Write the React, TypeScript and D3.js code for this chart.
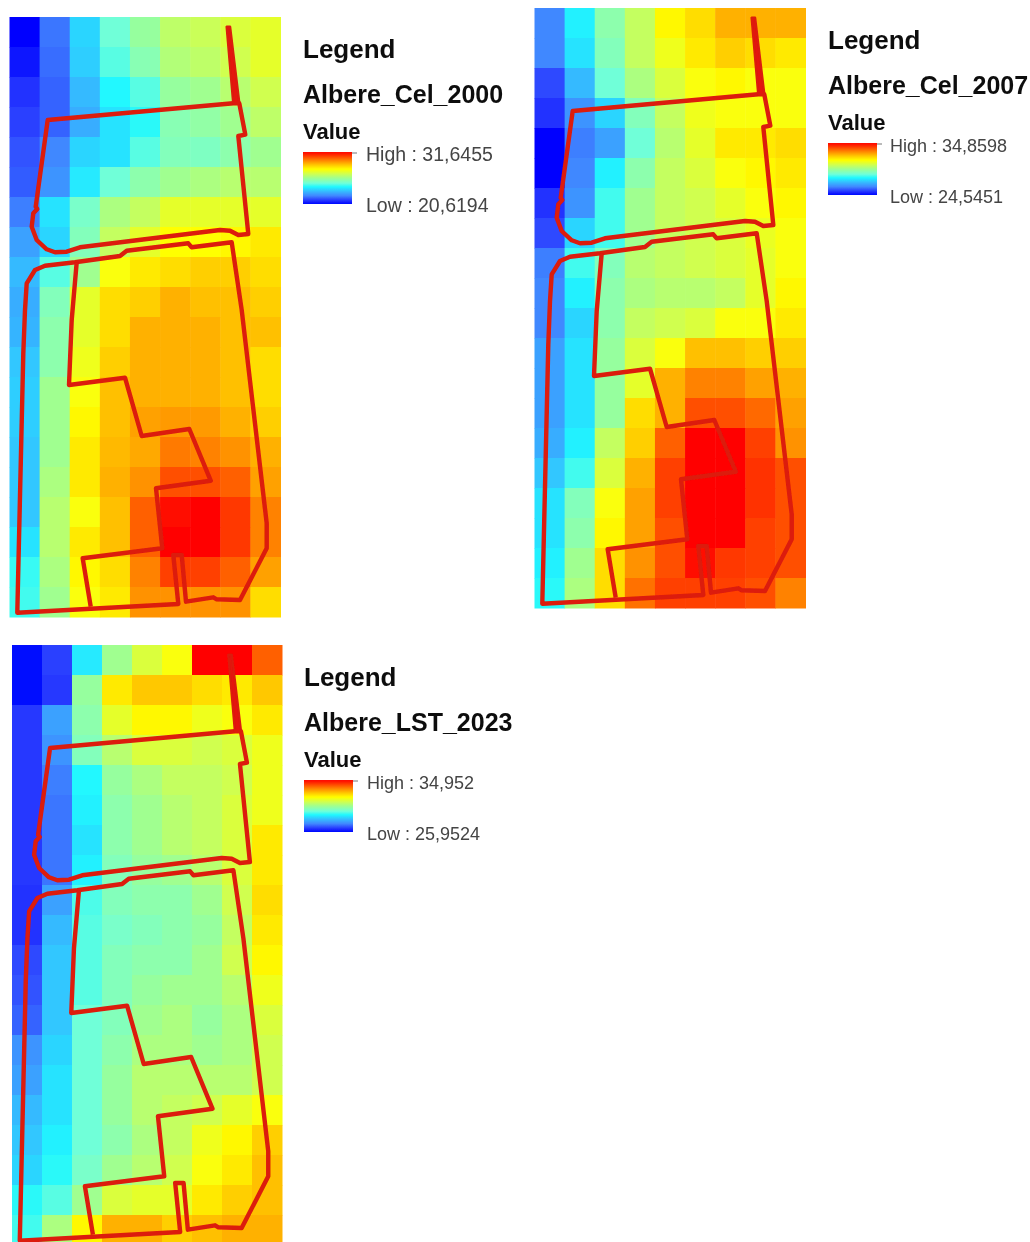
import React from "react";
import { scaleBand, scaleLinear, line, range, interpolateRgb, curveLinear } from "d3";

// cell values are positions on the legend stretch, 0 = Low, 100 = High
const cel2000 = [
  [0, 14, 28, 40, 48, 55, 57, 60, 62],
  [3, 13, 27, 38, 45, 53, 55, 58, 62],
  [6, 12, 24, 33, 38, 48, 50, 54, 58],
  [8, 12, 22, 30, 34, 45, 47, 50, 55],
  [10, 16, 28, 30, 38, 44, 43, 46, 50],
  [11, 18, 31, 40, 46, 50, 52, 54, 54],
  [15, 30, 42, 52, 56, 62, 62, 62, 62],
  [20, 28, 44, 56, 62, 67, 67, 68, 70],
  [24, 38, 50, 66, 70, 72, 74, 74, 72],
  [22, 44, 62, 72, 74, 78, 76, 76, 74],
  [23, 46, 62, 72, 78, 78, 78, 76, 76],
  [26, 46, 64, 74, 78, 78, 78, 76, 72],
  [27, 50, 66, 76, 78, 78, 78, 76, 72],
  [27, 50, 68, 76, 80, 81, 81, 78, 74],
  [26, 50, 70, 77, 79, 85, 84, 82, 78],
  [26, 52, 70, 78, 82, 90, 90, 88, 80],
  [26, 54, 66, 76, 88, 98, 100, 93, 84],
  [30, 54, 70, 76, 88, 100, 100, 93, 84],
  [35, 52, 68, 72, 84, 92, 92, 88, 80],
  [36, 50, 66, 70, 82, 82, 82, 82, 72],
];

const cel2007 = [
  [16, 32, 46, 56, 68, 72, 78, 78, 78],
  [16, 30, 44, 56, 64, 70, 74, 72, 70],
  [9, 24, 40, 52, 60, 66, 68, 66, 66],
  [6, 18, 28, 44, 56, 64, 66, 66, 66],
  [0, 15, 20, 40, 54, 62, 70, 70, 72],
  [0, 16, 32, 46, 56, 60, 66, 68, 70],
  [6, 18, 36, 50, 56, 58, 62, 66, 68],
  [9, 28, 36, 50, 56, 58, 60, 63, 66],
  [15, 36, 44, 54, 56, 58, 60, 62, 66],
  [16, 32, 46, 52, 54, 54, 56, 62, 68],
  [16, 28, 46, 56, 58, 60, 66, 66, 70],
  [20, 30, 48, 60, 66, 76, 76, 74, 74],
  [20, 30, 48, 62, 78, 84, 84, 80, 78],
  [20, 30, 48, 72, 78, 90, 90, 87, 80],
  [22, 32, 56, 74, 88, 100, 100, 92, 82],
  [26, 36, 60, 78, 92, 100, 100, 94, 90],
  [30, 44, 66, 80, 92, 100, 100, 94, 90],
  [30, 46, 68, 80, 90, 100, 100, 92, 90],
  [32, 50, 72, 82, 90, 98, 93, 92, 90],
  [34, 52, 72, 86, 92, 92, 92, 90, 84],
];

const lst2023 = [
  [1, 8, 31, 50, 60, 66, 100, 100, 88],
  [1, 7, 48, 70, 75, 75, 72, 70, 75],
  [7, 20, 46, 62, 68, 68, 64, 66, 70],
  [7, 18, 44, 54, 60, 60, 58, 60, 64],
  [7, 15, 33, 48, 52, 56, 56, 58, 64],
  [7, 14, 32, 46, 50, 54, 56, 60, 64],
  [7, 14, 30, 46, 50, 54, 56, 60, 70],
  [7, 14, 32, 44, 48, 50, 54, 60, 70],
  [6, 20, 37, 44, 46, 46, 50, 58, 72],
  [6, 24, 38, 42, 44, 46, 48, 56, 70],
  [9, 26, 38, 44, 46, 46, 50, 58, 68],
  [10, 26, 38, 44, 48, 50, 50, 54, 64],
  [12, 26, 40, 44, 50, 52, 48, 52, 60],
  [18, 28, 40, 46, 52, 52, 50, 52, 58],
  [20, 30, 40, 48, 54, 54, 54, 54, 58],
  [24, 30, 40, 48, 54, 56, 58, 62, 66],
  [26, 32, 40, 46, 52, 56, 64, 68, 74],
  [28, 34, 42, 50, 54, 58, 66, 70, 76],
  [34, 38, 50, 60, 62, 62, 70, 74, 76],
  [36, 52, 68, 78, 78, 74, 76, 78, 78],
];

// site boundary in map units (271 wide, 600 tall)
const northBlock: [number, number][] = [
  [223.8, 86.3], [38.2, 103], [26.2, 189.7], [27.8, 192], [23.8, 196.3], [22.2, 209.7],
  [27.2, 223], [37.2, 232.3], [45.5, 235.3], [57.2, 234.7], [70.5, 230.3], [210.5, 213],
  [220.5, 213.7], [228.8, 218], [238.8, 217], [228.8, 119], [235.8, 117.7], [229.8, 86.3],
];
const spike: [number, number][] = [[217.2, 9.7], [220.5, 9.7], [229.8, 86.3], [223.8, 86.3]];
const southBlock: [number, number][] = [
  [7.8, 595.7], [168.8, 587], [163.8, 538], [172.2, 538], [176.5, 584.7], [203.8, 580.3],
  [207.2, 582.3], [230.5, 583], [257.2, 531.3], [257.2, 506.3], [232.2, 293], [222.2, 225.3],
  [182.2, 230.3], [178.8, 226.3], [117.2, 233.7], [110.5, 239], [65.5, 245.3], [35.5, 248.7],
  [25.5, 253], [17.2, 266.3], [15.5, 293], [13.8, 336.3],
];
const innerLine: [number, number][] = [
  [67.2, 245.3], [62.2, 303], [59.5, 368], [115.5, 360.7], [132.2, 419], [179.8, 412],
  [201.2, 463.7], [146.5, 471.3], [152.8, 531.3], [73.2, 541.3], [81.2, 589.7],
];

const rampStops = [0, 8, 16, 25, 33, 40, 50, 58, 67, 75, 83, 92, 100];
const rampColors = [
  "#0000ff", "#2a40ff", "#4088ff", "#33c0ff", "#20f8ff", "#70ffd8", "#a0ff90",
  "#d0ff50", "#ffff00", "#ffc800", "#ff8a00", "#ff4000", "#ff0000",
];

const color = scaleLinear<string>().domain(rampStops).range(rampColors).interpolate(interpolateRgb);

const cols = range(9);
const rows = range(20);

const panels = [
  {
    key: "p2000", title: "Albere_Cel_2000", high: "High : 31,6455", low: "Low : 20,6194", grid: cel2000,
    mapX: 9.5, mapY: 17, mapW: 271, legX: 303, legY: 0, labelX: 366, labelSize: 19.5,
  },
  {
    key: "p2007", title: "Albere_Cel_2007", high: "High : 34,8598", low: "Low : 24,5451", grid: cel2007,
    mapX: 534.5, mapY: 8, mapW: 271, legX: 828, legY: -9, labelX: 890, labelSize: 18,
  },
  {
    key: "p2023", title: "Albere_LST_2023", high: "High : 34,952", low: "Low : 25,9524", grid: lst2023,
    mapX: 12, mapY: 645, mapW: 270, legX: 304, legY: 628, labelX: 367, labelSize: 18,
  },
];

const sans = "'Liberation Sans', Arial, sans-serif";

function Panel({ p }: { p: (typeof panels)[number] }) {
  const x = scaleBand<number>().domain(cols).range([p.mapX, p.mapX + p.mapW]);
  const y = scaleBand<number>().domain(rows).range([p.mapY, p.mapY + 600]);
  const mx = scaleLinear().domain([0, 271]).range([p.mapX, p.mapX + p.mapW]);
  const my = scaleLinear().domain([0, 600]).range([p.mapY, p.mapY + 600]);
  const outline = line<[number, number]>().x(d => mx(d[0])).y(d => my(d[1])).curve(curveLinear);
  const closed = (pts: [number, number][]) => outline(pts) + "Z";

  return (
    <g>
      <g filter="url(#soft)">
        {p.grid.map((row, r) =>
          row.map((v, c) => (
            <rect
              key={`${r}-${c}`}
              x={x(c)}
              y={y(r)}
              width={x.bandwidth() + 0.5}
              height={y.bandwidth() + 0.5}
              fill={color(v)}
            />
          ))
        )}
        <g fill="none" stroke="#dc1a0c" strokeWidth={4.4} strokeLinejoin="round">
          <path d={closed(northBlock)} />
          <path d={closed(southBlock)} />
          <path d={outline(innerLine) ?? ""} />
          <path d={closed(spike)} fill="#e5140c" strokeWidth={2.5} />
        </g>
      </g>
      <g fontFamily={sans} filter="url(#softText)">
        <text x={p.legX} y={p.legY + 58} fontSize={26} fontWeight="bold" fill="#111">Legend</text>
        <text x={p.legX} y={p.legY + 103} fontSize={25} fontWeight="bold" fill="#111">{p.title}</text>
        <text x={p.legX} y={p.legY + 138.5} fontSize={22} fontWeight="bold" fill="#111">Value</text>
        <rect x={p.legX} y={p.legY + 152} width={49} height={52} fill="url(#ramp)" />
        <line x1={p.legX + 49} x2={p.legX + 54} y1={p.legY + 153} y2={p.legY + 153} stroke="#777" />
        <text x={p.labelX} y={p.legY + 160.5} fontSize={p.labelSize} fill="#444">{p.high}</text>
        <text x={p.labelX} y={p.legY + 212} fontSize={p.labelSize} fill="#444">{p.low}</text>
      </g>
    </g>
  );
}

export default function App() {
  return (
    <svg
      width={1030}
      height={1242}
      style={{ position: "absolute", left: 0, top: 0, display: "block", background: "#fff" }}
    >
      <defs>
        <linearGradient id="ramp" x1="0" y1="1" x2="0" y2="0">
          {rampStops.map((s, i) => (
            <stop key={s} offset={`${s}%`} stopColor={rampColors[i]} />
          ))}
        </linearGradient>
        <filter id="soft" x="-2%" y="-2%" width="104%" height="104%">
          <feGaussianBlur stdDeviation={0.7} />
        </filter>
        <filter id="softText" x="-2%" y="-2%" width="104%" height="104%">
          <feGaussianBlur stdDeviation={0.45} />
        </filter>
      </defs>
      {panels.map(p => (
        <Panel key={p.key} p={p} />
      ))}
    </svg>
  );
}
